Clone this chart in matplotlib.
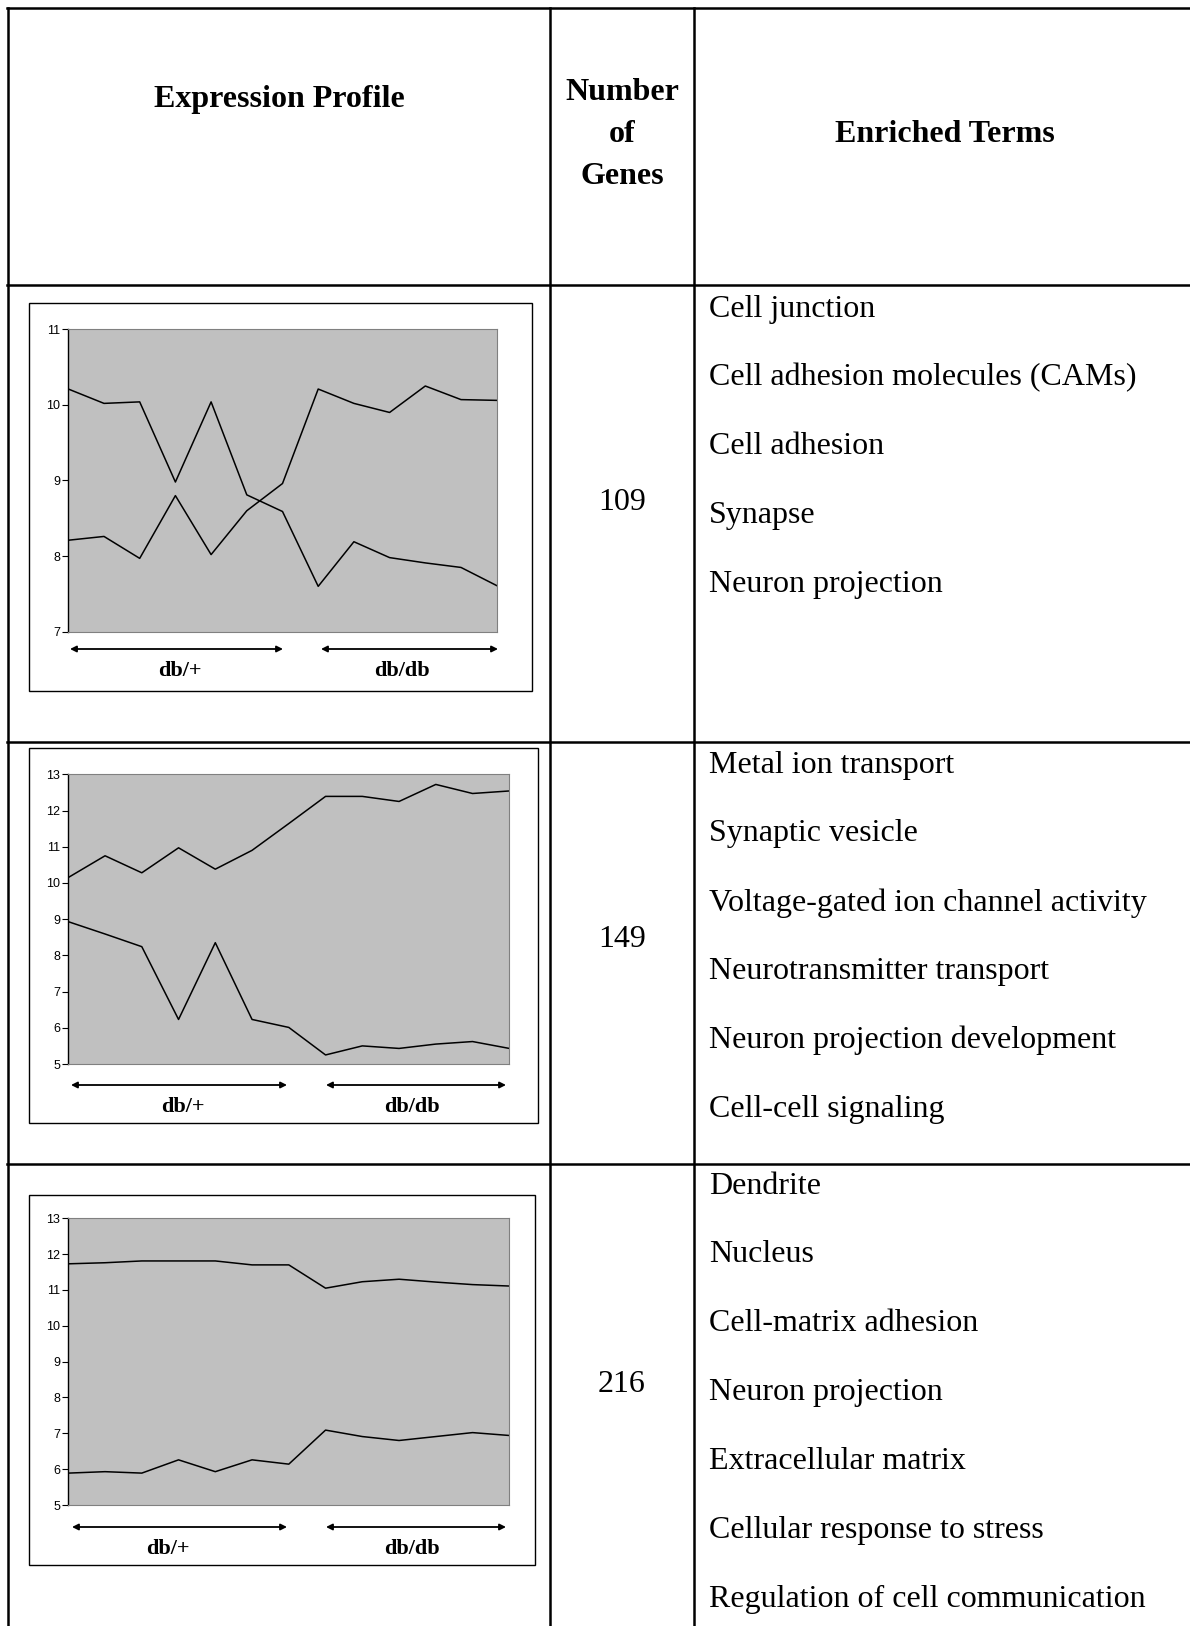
import matplotlib
matplotlib.use("Agg")
import matplotlib.pyplot as plt

# expression profiles: 7 db/+ samples followed by 6 db/db samples
samples = list(range(13))

c1_up = [10.21, 10.02, 10.04, 8.98, 10.04, 8.81, 8.59, 7.60, 8.19, 7.98, 7.91, 7.85, 7.61]
c1_down = [8.21, 8.26, 7.97, 8.80, 8.02, 8.60, 8.96, 10.21, 10.02, 9.90, 10.25, 10.07, 10.06]

c2_up = [10.15, 10.75, 10.28, 10.97, 10.38, 10.90, 11.64, 12.39, 12.39, 12.25, 12.72, 12.47, 12.54]
c2_down = [8.93, 8.59, 8.24, 6.23, 8.35, 6.23, 6.01, 5.25, 5.50, 5.43, 5.55, 5.62, 5.43]

c3_up = [11.73, 11.76, 11.81, 11.81, 11.81, 11.70, 11.70, 11.05, 11.23, 11.30, 11.22, 11.15, 11.11]
c3_down = [5.89, 5.93, 5.89, 6.26, 5.93, 6.26, 6.14, 7.09, 6.91, 6.80, 6.91, 7.02, 6.94]

y_ranges = [(7, 11), (5, 13), (5, 13)]
gene_counts = ["109", "149", "216"]

terms_1 = ["Cell junction", "Cell adhesion molecules (CAMs)", "Cell adhesion",
           "Synapse", "Neuron projection"]
terms_2 = ["Metal ion transport", "Synaptic vesicle", "Voltage-gated ion channel activity",
           "Neurotransmitter transport", "Neuron projection development",
           "Cell-cell signaling"]
terms_3 = ["Dendrite", "Nucleus", "Cell-matrix adhesion", "Neuron projection",
           "Extracellular matrix", "Cellular response to stress",
           "Regulation of cell communication"]

profiles = [(c1_up, c1_down), (c2_up, c2_down), (c3_up, c3_down)]
term_lists = [terms_1, terms_2, terms_3]

W, H = 1190, 1626
SERIF = "Liberation Serif"
SANS = "Liberation Sans"

fig = plt.figure(figsize=(W / 100, H / 100), dpi=100)
bg = fig.add_axes([0, 0, 1, 1])
bg.set_xlim(0, W)
bg.set_ylim(H, 0)
bg.axis("off")

# table grid
lw_grid = 1.8
bg.plot([7, W], [8, 8], color="black", lw=lw_grid)
for x in (7.5, 549.5, 694):
    bg.plot([x, x], [8, H], color="black", lw=lw_grid)
for y in (285.5, 742, 1164):
    bg.plot([7, W], [y, y], color="black", lw=lw_grid)

# header
bg.text(279, 100, "Expression Profile", family=SERIF, weight="bold",
        fontsize=23, ha="center", va="center")
for txt, y in zip(["Number", "of", "Genes"], [93, 135, 177]):
    bg.text(622, y, txt, family=SERIF, weight="bold", fontsize=23,
            ha="center", va="center")
bg.text(945, 135, "Enriched Terms", family=SERIF, weight="bold",
        fontsize=23, ha="center", va="center")

# per-row layout in pixels
boxes = [(29, 303, 532, 691.5), (29, 748, 538, 1123), (29, 1195, 535, 1564.5)]
plot_areas = [(68.3, 329.3, 496.7, 631.7), (68.3, 774.3, 509.3, 1064),
              (68.3, 1218.3, 509.3, 1505)]
arrow_y = [649, 1085, 1527]
arrow_left = [(70, 283), (71, 287), (72, 287)]
arrow_right = [(321, 498), (326, 506), (326, 506)]
label_y = [671, 1107, 1549]
label_x = [(180, 402), (183, 412), (168, 412)]
count_y = [502, 939, 1384]
term_y0 = [309, 765, 1186]
term_step = 68.9

for i in range(3):
    x0, y0, x1, y1 = boxes[i]
    bg.add_patch(plt.Rectangle((x0, y0), x1 - x0, y1 - y0, fill=False,
                               edgecolor="black", lw=1.0))

    px0, py0, px1, py1 = plot_areas[i]
    ax = fig.add_axes([px0 / W, 1 - py1 / H, (px1 - px0) / W, (py1 - py0) / H])
    ax.set_facecolor("#c0c0c0")
    up, down = profiles[i]
    ax.plot(samples, up, color="black", lw=1.1)
    ax.plot(samples, down, color="black", lw=1.1)
    lo, hi = y_ranges[i]
    ax.set_xlim(samples[0], samples[-1])
    ax.set_ylim(lo, hi)
    ax.set_yticks(range(lo, hi + 1))
    ax.set_xticks([])
    ax.tick_params(axis="y", direction="out", length=4, width=0.8,
                   labelsize=9, pad=2)
    for lab in ax.get_yticklabels():
        lab.set_family(SANS)
    for side in ("top", "right", "bottom"):
        ax.spines[side].set_color("#808080")
        ax.spines[side].set_linewidth(0.8)
    ax.spines["left"].set_color("black")
    ax.spines["left"].set_linewidth(1.0)

    for a, b in (arrow_left[i], arrow_right[i]):
        bg.annotate("", xy=(b, arrow_y[i]), xytext=(a, arrow_y[i]),
                    arrowprops=dict(arrowstyle="<|-|>", color="black", lw=1.3,
                                    mutation_scale=9, shrinkA=0, shrinkB=0))
    bg.text(label_x[i][0], label_y[i], "db/+", family=SERIF, weight="bold",
            fontsize=16, ha="center", va="center")
    bg.text(label_x[i][1], label_y[i], "db/db", family=SERIF, weight="bold",
            fontsize=16, ha="center", va="center")

    bg.text(622, count_y[i], gene_counts[i], family=SERIF, fontsize=23,
            ha="center", va="center")
    for k, term in enumerate(term_lists[i]):
        bg.text(709, term_y0[i] + k * term_step, term, family=SERIF,
                fontsize=23, ha="left", va="center")

fig.savefig("out.png", dpi=100, facecolor="white")
